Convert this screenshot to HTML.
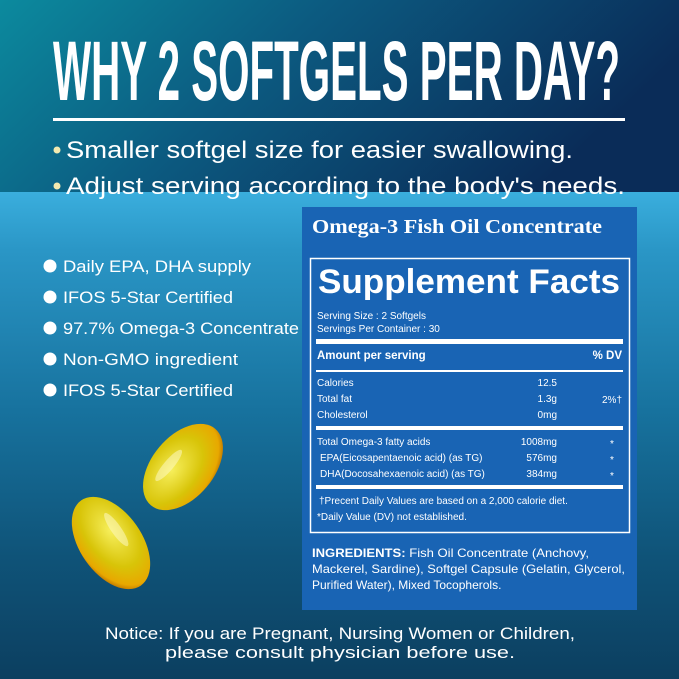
<!DOCTYPE html>
<html><head><meta charset="utf-8"><style>
html,body{margin:0;padding:0;background:#0d3f60}
svg{display:block}
</style></head><body>
<svg width="679" height="679" viewBox="0 0 679 679" xmlns="http://www.w3.org/2000/svg" font-family="Liberation Sans, sans-serif">
<defs>
<linearGradient id="hdr" x1="0" y1="0" x2="1" y2="0.3">
<stop offset="0" stop-color="#0c8a9e"/><stop offset="0.45" stop-color="#0c5a80"/><stop offset="1" stop-color="#0a2c58"/>
</linearGradient>
<linearGradient id="sea" x1="0" y1="0" x2="0" y2="1">
<stop offset="0" stop-color="#3aaedd"/><stop offset="0.12" stop-color="#2a96c6"/><stop offset="0.45" stop-color="#17729e"/><stop offset="0.75" stop-color="#0f5378"/><stop offset="1" stop-color="#0c3f60"/>
</linearGradient>
<radialGradient id="gel" cx="0.4" cy="0.4" r="0.65">
<stop offset="0" stop-color="#f6ee5a"/><stop offset="0.6" stop-color="#d8c408"/><stop offset="0.9" stop-color="#e8a800"/><stop offset="1" stop-color="#c07800"/>
</radialGradient>
</defs>
<rect width="679" height="679" fill="url(#sea)"/>
<rect x="0" y="192" width="679" height="487" fill="url(#sea)"/>
<rect width="679" height="192" fill="url(#hdr)"/>
<text x="53" y="100" fill="#fff" font-weight="bold" font-size="84" textLength="567" lengthAdjust="spacingAndGlyphs">WHY 2 SOFTGELS PER DAY?</text>
<rect x="53" y="118" width="572" height="3" fill="#fff"/>
<g fill="#fff" font-size="24">
<circle cx="57" cy="150" r="3.5" fill="#f3eab0"/><text x="66" y="158" textLength="507" lengthAdjust="spacingAndGlyphs">Smaller softgel size for easier swallowing.</text>
<circle cx="57" cy="186" r="3.5" fill="#f3eab0"/><text x="66" y="194" textLength="559" lengthAdjust="spacingAndGlyphs">Adjust serving according to the body's needs.</text>
</g>
<g fill="#fff" font-size="17">
<circle cx="50" cy="266" r="6.5"/><text x="63" y="272" textLength="188" lengthAdjust="spacingAndGlyphs">Daily EPA, DHA supply</text>
<circle cx="50" cy="297" r="6.5"/><text x="63" y="303" textLength="170" lengthAdjust="spacingAndGlyphs">IFOS 5-Star Certified</text>
<circle cx="50" cy="328" r="6.5"/><text x="63" y="334" textLength="236" lengthAdjust="spacingAndGlyphs">97.7% Omega-3 Concentrate</text>
<circle cx="50" cy="359" r="6.5"/><text x="63" y="365" textLength="175" lengthAdjust="spacingAndGlyphs">Non-GMO ingredient</text>
<circle cx="50" cy="390" r="6.5"/><text x="63" y="396" textLength="170" lengthAdjust="spacingAndGlyphs">IFOS 5-Star Certified</text>
</g>
<g transform="translate(183,467) rotate(-50)"><ellipse rx="50" ry="31" fill="url(#gel)"/><ellipse cx="-8" cy="-12" rx="20" ry="5" fill="#fffbd0" opacity="0.5"/></g>
<g transform="translate(111,543) rotate(55)"><ellipse rx="52" ry="31" fill="url(#gel)"/><ellipse cx="-8" cy="-12" rx="20" ry="5" fill="#fffbd0" opacity="0.5"/></g>
<rect x="302" y="207" width="335" height="403" fill="#1964b4"/>
<text x="312" y="233" fill="#fff" font-family="Liberation Serif, serif" font-weight="bold" font-size="19.5" textLength="290" lengthAdjust="spacingAndGlyphs">Omega-3 Fish Oil Concentrate</text>
<rect x="310.5" y="258.5" width="319" height="274" fill="none" stroke="#fff" stroke-width="1.5"/>
<text x="318" y="293" fill="#fff" font-weight="bold" font-size="34" textLength="302" lengthAdjust="spacingAndGlyphs">Supplement Facts</text>
<g fill="#fff" font-size="10">
<text x="317" y="319">Serving Size : 2 Softgels</text>
<text x="317" y="332">Servings Per Container : 30</text>
<rect x="316" y="339" width="307" height="5"/>
<text x="317" y="359" font-weight="bold" font-size="11.5">Amount per serving</text>
<text x="622" y="359" font-weight="bold" font-size="11.5" text-anchor="end">% DV</text>
<rect x="316" y="370" width="307" height="2"/>
<text x="317" y="386">Calories</text><text x="557" y="386" text-anchor="end">12.5</text>
<text x="317" y="402">Total fat</text><text x="557" y="402" text-anchor="end">1.3g</text><text x="622" y="403" text-anchor="end">2%†</text>
<text x="317" y="418">Cholesterol</text><text x="557" y="418" text-anchor="end">0mg</text>
<rect x="316" y="426" width="307" height="4"/>
<text x="317" y="445">Total Omega-3 fatty acids</text><text x="557" y="445" text-anchor="end">1008mg</text><text x="610" y="447">*</text>
<text x="320" y="461">EPA(Eicosapentaenoic acid) (as TG)</text><text x="557" y="461" text-anchor="end">576mg</text><text x="610" y="463">*</text>
<text x="320" y="477">DHA(Docosahexaenoic acid) (as TG)</text><text x="557" y="477" text-anchor="end">384mg</text><text x="610" y="479">*</text>
<rect x="316" y="485" width="307" height="4"/>
<text x="319" y="504">†Precent Daily Values are based on a 2,000 calorie diet.</text>
<text x="317" y="520">*Daily Value (DV) not established.</text>
</g>
<g fill="#fff" font-size="12">
<text x="312" y="557" textLength="277" lengthAdjust="spacingAndGlyphs"><tspan font-weight="bold">INGREDIENTS:</tspan> Fish Oil Concentrate (Anchovy,</text>
<text x="312" y="573" textLength="313" lengthAdjust="spacingAndGlyphs">Mackerel, Sardine), Softgel Capsule (Gelatin, Glycerol,</text>
<text x="312" y="589">Purified Water), Mixed Tocopherols.</text>
</g>
<g fill="#fff" font-size="17">
<text x="105" y="639" textLength="470" lengthAdjust="spacingAndGlyphs">Notice: If you are Pregnant, Nursing Women or Children,</text>
<text x="165" y="658" textLength="350" lengthAdjust="spacingAndGlyphs">please consult physician before use.</text>
</g>
</svg>
</body></html>
